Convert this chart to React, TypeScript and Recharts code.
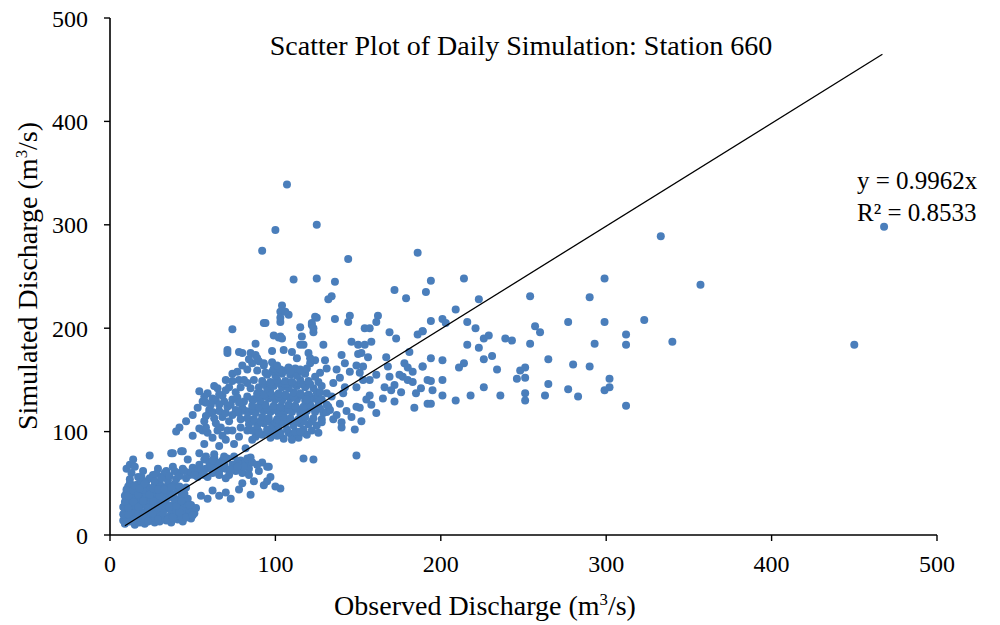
import { ScatterChart, Scatter, XAxis, YAxis } from "recharts";

const lowFlowPoints: [number, number][] = [
  [9, 11], [12, 13], [15, 10], [18, 12], [21, 11], [24, 14], [27, 12], [30, 13], [34, 14], [37, 12], [41, 15], [44, 13],
  [9, 17], [11, 16], [14, 19], [17, 17], [20, 16], [23, 18], [26, 17], [29, 19], [32, 17], [36, 18], [39, 20], [43, 18], [46, 21], [49, 16],
  [9, 23], [12, 22], [15, 25], [18, 23], [21, 22], [24, 25], [27, 23], [30, 22], [33, 25], [37, 23], [40, 24], [44, 26], [48, 24], [51, 21],
  [10, 29], [13, 28], [16, 31], [19, 29], [22, 28], [25, 31], [28, 29], [31, 28], [34, 30], [38, 29], [41, 31], [45, 31], [49, 29], [52, 26],
  [10, 35], [13, 34], [16, 37], [19, 35], [22, 34], [25, 36], [28, 35], [31, 34], [35, 36], [39, 35], [43, 37], [47, 35],
  [10, 41], [13, 40], [16, 43], [19, 41], [22, 40], [25, 42], [28, 41], [32, 40], [36, 42], [41, 43], [45, 40],
  [11, 47], [14, 46], [17, 49], [20, 47], [23, 46], [27, 48], [31, 47], [35, 48], [39, 49],
  [8, 14], [8, 20], [8, 27], [9, 32], [9, 38], [10, 44],
  [11, 20], [14, 14], [17, 21], [20, 19], [23, 13], [26, 21], [29, 15], [32, 21], [35, 15], [38, 17], [42, 22], [46, 17], [50, 19],
  [11, 26], [14, 32], [17, 27], [20, 33], [23, 26], [26, 33], [29, 26], [32, 32], [36, 27], [40, 28], [43, 33], [47, 28],
  [11, 38], [14, 43], [17, 39], [20, 44], [24, 39], [27, 44], [30, 38], [34, 43], [38, 39], [12, 50], [15, 48], [19, 56], [10, 64], [12, 68],
  [12, 54], [13, 60], [14, 73], [15, 66], [17, 56], [20, 62], [22, 52], [24, 77], [26, 58], [29, 64], [30, 51], [32, 57],
  [34, 62], [35, 53], [37, 79], [38, 66], [40, 54], [41, 60], [43, 81], [44, 64], [46, 55], [47, 73], [48, 58], [50, 65],
  [52, 62], [53, 56], [54, 68], [56, 60], [57, 73], [58, 64], [59, 56],
  [19, 51], [24, 55], [28, 59], [33, 60], [36, 57], [39, 62], [42, 57], [45, 62], [49, 61], [51, 58], [55, 64], [57, 58],
  [27, 52], [31, 55], [18, 45], [21, 50], [26, 45], [29, 44], [33, 44], [37, 46], [42, 47], [46, 46],
  [48, 29], [55, 38], [59, 35],
];

const midFlowPoints: [number, number][] = [
  [60, 70], [62, 60], [63, 75], [64, 66], [66, 62], [67, 67], [68, 72], [70, 64], [71, 74], [72, 58], [74, 68], [75, 76],
  [76, 62], [78, 66], [79, 72], [80, 60], [82, 70], [84, 64], [54, 79], [58, 76], [63, 78], [69, 76],
  [61, 66], [65, 70], [69, 68], [73, 63], [77, 70], [81, 66], [83, 74], [66, 58], [70, 55], [62, 72],
  [85, 75], [86, 70], [92, 70], [96, 66], [77, 66],
  [62, 43], [66, 38], [70, 41], [73, 35], [78, 44], [85, 39], [80, 50], [84, 58], [87, 52], [90, 62], [93, 48],
  [95, 66], [97, 56], [89, 68], [100, 47], [103, 45], [95, 52],
  [42, 104], [40, 100], [38, 79], [44, 81], [56, 101], [59, 99], [62, 94], [65, 101], [71, 101], [74, 101], [79, 104],
  [83, 101], [89, 102], [54, 103], [68, 96], [58, 104], [67, 104],
  [54, 139], [59, 137], [65, 142], [62, 132], [56, 129], [53, 123], [50, 116], [60, 121], [68, 135], [76, 138], [74, 131],
  [71, 124], [68, 114], [76, 121], [83, 134], [80, 123], [86, 131], [91, 137], [60, 118], [62, 119],
  [58, 115], [63, 113], [66, 120], [70, 118], [74, 116], [78, 118], [82, 120], [64, 130], [69, 129], [73, 126], [77, 133],
  [81, 129], [57, 134], [61, 126], [66, 136], [70, 140], [79, 143], [83, 147], [87, 150], [78, 150], [70, 150], [63, 144],
  [74, 156], [80, 164], [86, 166], [90, 168], [84, 170],
  [74, 149], [81, 150], [77, 158], [83, 160], [89, 159], [93, 164], [71, 179], [71, 176], [78, 177], [80, 176],
  [88, 185], [85, 176], [88, 174], [89, 171], [74, 199], [93, 205],
  [57, 110], [64, 108], [72, 110], [79, 112], [66, 126], [72, 143], [85, 142], [78, 128], [58, 128], [46, 110],
  [50, 96], [57, 88], [66, 86], [75, 88], [82, 84], [70, 92], [78, 95], [86, 92],
  [88, 95], [92, 97], [97, 94], [101, 96], [105, 93], [110, 96], [114, 94], [119, 97],
  [90, 98], [95, 99], [99, 98], [103, 97], [108, 99], [112, 98], [117, 99],
  [86, 101], [90, 100], [95, 102], [99, 101], [103, 99], [107, 102], [112, 100], [117, 102], [122, 101],
  [84, 107], [89, 106], [93, 108], [98, 107], [102, 105], [106, 108], [111, 106], [115, 108], [120, 107], [125, 106],
  [86, 110], [91, 110], [95, 110], [100, 109], [104, 111], [108, 110], [113, 110], [117, 110], [122, 110],
  [83, 113], [87, 112], [92, 114], [96, 113], [101, 112], [105, 114], [109, 113], [114, 112], [118, 114], [123, 113], [128, 112],
  [84, 119], [88, 118], [93, 120], [97, 119], [102, 118], [106, 120], [110, 119], [115, 118], [119, 120], [124, 119], [129, 118],
  [86, 122], [91, 122], [95, 122], [100, 121], [104, 123], [108, 122], [113, 122], [117, 121], [122, 123], [127, 122],
  [86, 125], [90, 124], [94, 126], [99, 125], [103, 124], [108, 126], [112, 125], [117, 124], [121, 126], [126, 125], [132, 124],
  [87, 131], [91, 130], [96, 132], [100, 131], [104, 130], [109, 132], [113, 131], [118, 130], [123, 132], [128, 131],
  [89, 134], [94, 134], [98, 135], [102, 134], [107, 134], [111, 134], [116, 135], [121, 134], [126, 134],
  [89, 137], [93, 136], [97, 138], [102, 137], [106, 136], [111, 138], [115, 137], [120, 136], [125, 138], [131, 137],
  [90, 143], [95, 142], [99, 144], [104, 143], [108, 142], [113, 144], [118, 143], [123, 142], [128, 144],
  [93, 146], [97, 146], [102, 147], [106, 146], [111, 146], [116, 146], [121, 146],
  [92, 149], [97, 148], [101, 150], [106, 149], [110, 148], [115, 150], [120, 149], [126, 148],
  [95, 155], [100, 154], [104, 156], [109, 155], [113, 154], [118, 156],
  [98, 158], [102, 158], [106, 159], [111, 158], [116, 158],
  [99, 161], [103, 160], [108, 162], [112, 161],
  [98, 178], [105, 179], [110, 177], [120, 176], [113, 171], [93, 166], [98, 167], [101, 164], [121, 166], [124, 169],
  [94, 157], [109, 158], [115, 160], [119, 161], [117, 184], [99, 193], [103, 192], [116, 192], [123, 196], [94, 205],
  [103, 206], [115, 201], [122, 203], [124, 211], [104, 222], [108, 213], [103, 216], [102, 191], [104, 190], [115, 184],
  [129, 184], [103, 210], [106, 216], [125, 210], [136, 209], [122, 205], [123, 200],
  [110, 92], [115, 100], [126, 99], [117, 74], [123, 73], [128, 109], [131, 119], [133, 121], [135, 112], [137, 116],
  [131, 161], [137, 160], [139, 152], [127, 157], [130, 169], [121, 171], [124, 153], [135, 147], [134, 134],
  [127, 138], [126, 129], [131, 126], [119, 131], [139, 127],
  [107, 339], [100, 295], [125, 300], [92, 275], [111, 247], [125, 248], [136, 245], [134, 231], [132, 228],
];

const highFlowPoints: [number, number][] = [
  [145, 212], [144, 206], [162, 212], [161, 206], [154, 200], [157, 200], [169, 196], [173, 190], [186, 194], [189, 197],
  [146, 187], [150, 184], [154, 184], [158, 187], [140, 174], [150, 175], [152, 176], [156, 172], [167, 172], [181, 177],
  [178, 166], [180, 162], [183, 158], [189, 163], [192, 150], [161, 155], [168, 163], [169, 153], [175, 155], [177, 153],
  [180, 150], [183, 148], [157, 135], [155, 131], [165, 132], [172, 129], [184, 123], [161, 118], [192, 127], [149, 124],
  [151, 123], [146, 114], [148, 102], [140, 109], [140, 104], [149, 77], [143, 120], [152, 110], [158, 126],
  [145, 158], [151, 157], [149, 164], [153, 163], [142, 166], [142, 143], [149, 143], [141, 137], [153, 150], [157, 150],
  [166, 143], [170, 140], [176, 138], [185, 137], [188, 142], [195, 140], [172, 145],
  [144, 267], [186, 273], [172, 237], [179, 229],
  [194, 246], [214, 248], [191, 235], [299, 248], [254, 231], [290, 230], [223, 228], [209, 218], [194, 207], [201, 209],
  [203, 205], [216, 206], [221, 200], [277, 206], [299, 206], [257, 202], [260, 196], [312, 194], [189, 197], [226, 190],
  [229, 193], [239, 190], [243, 188], [254, 185], [293, 185], [312, 184], [216, 184], [223, 181], [231, 173], [226, 170],
  [194, 171], [201, 169], [189, 163], [214, 166], [211, 162], [234, 160], [265, 170], [280, 165], [290, 163], [251, 162],
  [248, 159], [246, 151], [251, 152], [194, 149], [201, 150], [265, 146], [302, 151], [302, 143], [299, 140], [226, 143],
  [277, 141], [201, 135], [218, 135], [236, 135], [251, 137], [263, 135], [283, 134], [209, 130], [251, 130], [194, 127],
  [312, 125], [333, 289], [357, 242], [323, 208], [340, 187], [468, 298], [450, 184],
];

// Excel linear trendline (through origin), end points as drawn
const trendLine = [
  { x: 9, y: 9 },
  { x: 467, y: 465 },
];

const xTicks = [0, 100, 200, 300, 400, 500];
const yTicks = [0, 100, 200, 300, 400, 500];

const toRows = (pts: [number, number][]) => pts.map(([x, y]) => ({ x, y }));
const allPoints = [...toRows(lowFlowPoints), ...toRows(midFlowPoints), ...toRows(highFlowPoints)];

const SERIF = "'Liberation Serif', 'Times New Roman', serif";
const DOT = "#4a7ebb";

function Dot(props: any) {
  const { cx, cy } = props;
  if (cx == null || cy == null) return null;
  return <circle cx={cx} cy={cy} r={4} fill={DOT} />;
}

const NoDot = () => null;

export default function App() {
  const axisStyle = { fill: "#000", fontSize: 24, fontFamily: SERIF };
  return (
    <div style={{ position: "absolute", left: 0, top: 0, width: 1000, height: 625, background: "#fff", fontFamily: SERIF }}>
      <ScatterChart width={1000} height={625} margin={{ top: 18, right: 63, bottom: 0, left: 0 }}>
        <XAxis
          type="number"
          dataKey="x"
          domain={[0, 500]}
          ticks={xTicks}
          height={90}
          tick={axisStyle}
          tickSize={6}
          tickMargin={14}
          axisLine={{ stroke: "#000", strokeWidth: 1.6 }}
          tickLine={{ stroke: "#000", strokeWidth: 1.4 }}
        />
        <YAxis
          type="number"
          dataKey="y"
          domain={[0, 500]}
          ticks={yTicks}
          width={110}
          tick={axisStyle}
          tickSize={6}
          tickMargin={16}
          axisLine={{ stroke: "#000", strokeWidth: 1.6 }}
          tickLine={{ stroke: "#000", strokeWidth: 1.4 }}
        />
        <Scatter data={allPoints} shape={<Dot />} isAnimationActive={false} />
        <Scatter
          data={trendLine}
          line={{ stroke: "#000", strokeWidth: 1.3 }}
          shape={<NoDot />}
          isAnimationActive={false}
        />
      </ScatterChart>

      <div style={{ position: "absolute", left: 521, top: 46, transform: "translate(-50%, -50%)", fontSize: 28, whiteSpace: "nowrap" }}>
        Scatter Plot of Daily Simulation: Station 660
      </div>
      <div style={{ position: "absolute", left: 857, top: 165, fontSize: 25, lineHeight: "32px", whiteSpace: "nowrap" }}>
        <div>y = 0.9962x</div>
        <div>R² = 0.8533</div>
      </div>
      <div style={{ position: "absolute", left: 485, top: 606, transform: "translate(-50%, -50%)", fontSize: 28, whiteSpace: "nowrap" }}>
        Observed Discharge (m<sup style={{ fontSize: "0.6em" }}>3</sup>/s)
      </div>
      <div
        style={{
          position: "absolute",
          left: 28,
          top: 276,
          transform: "translate(-50%, -50%) rotate(-90deg)",
          fontSize: 28,
          whiteSpace: "nowrap",
        }}
      >
        Simulated Discharge (m<sup style={{ fontSize: "0.6em" }}>3</sup>/s)
      </div>
    </div>
  );
}
